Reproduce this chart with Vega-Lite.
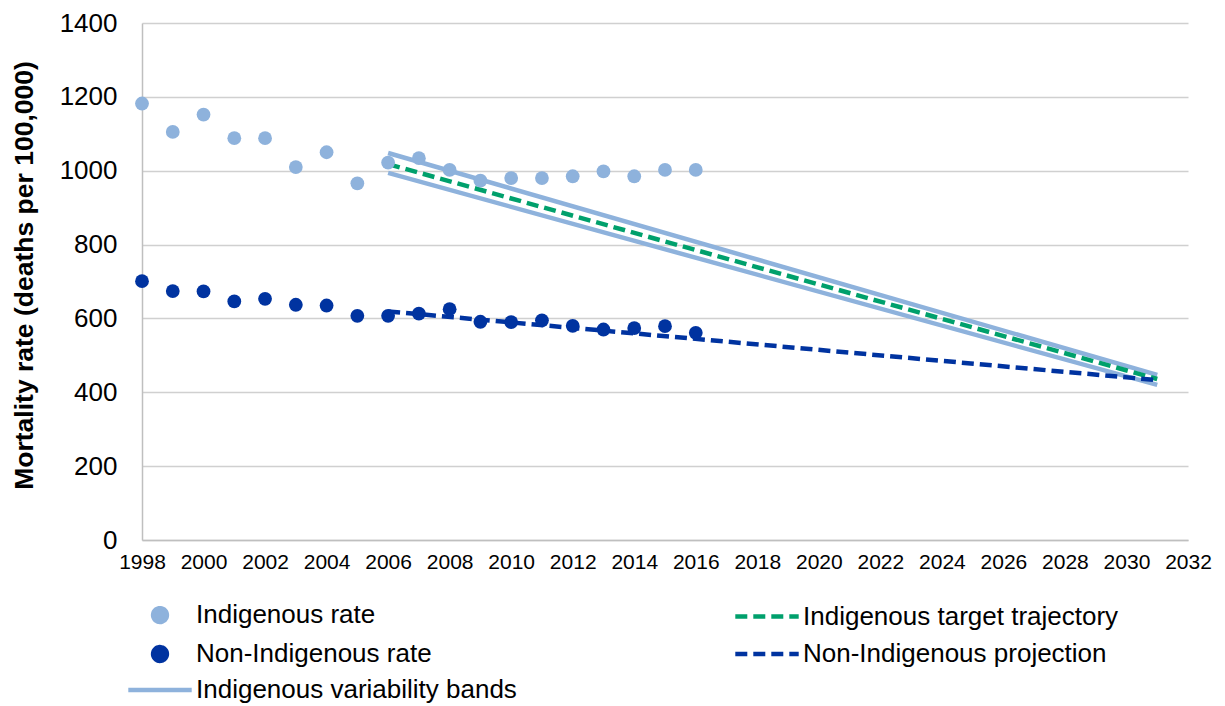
{
  "$schema": "https://vega.github.io/schema/vega-lite/v6.json",
  "width": 1046,
  "height": 517,
  "autosize": {"type": "none"},
  "padding": {"left": 142, "top": 23, "right": 37, "bottom": 166},
  "background": "white",
  "config": {
    "view": {"stroke": null},
    "font": "Liberation Sans",
    "axis": {"labelColor": "#000000", "titleColor": "#000000", "labelFont": "Liberation Sans", "titleFont": "Liberation Sans"}
  },
  "datasets": {
    "pts": [
      {"year": 1998, "value": 1182, "series": "Indigenous rate"},
      {"year": 1999, "value": 1105, "series": "Indigenous rate"},
      {"year": 2000, "value": 1152, "series": "Indigenous rate"},
      {"year": 2001, "value": 1088, "series": "Indigenous rate"},
      {"year": 2002, "value": 1088, "series": "Indigenous rate"},
      {"year": 2003, "value": 1010, "series": "Indigenous rate"},
      {"year": 2004, "value": 1050, "series": "Indigenous rate"},
      {"year": 2005, "value": 966, "series": "Indigenous rate"},
      {"year": 2006, "value": 1022, "series": "Indigenous rate"},
      {"year": 2007, "value": 1034, "series": "Indigenous rate"},
      {"year": 2008, "value": 1002, "series": "Indigenous rate"},
      {"year": 2009, "value": 973, "series": "Indigenous rate"},
      {"year": 2010, "value": 980, "series": "Indigenous rate"},
      {"year": 2011, "value": 980, "series": "Indigenous rate"},
      {"year": 2012, "value": 985, "series": "Indigenous rate"},
      {"year": 2013, "value": 998, "series": "Indigenous rate"},
      {"year": 2014, "value": 985, "series": "Indigenous rate"},
      {"year": 2015, "value": 1002, "series": "Indigenous rate"},
      {"year": 2016, "value": 1002, "series": "Indigenous rate"},
      {"year": 1998, "value": 701, "series": "Non-Indigenous rate"},
      {"year": 1999, "value": 674, "series": "Non-Indigenous rate"},
      {"year": 2000, "value": 673, "series": "Non-Indigenous rate"},
      {"year": 2001, "value": 646, "series": "Non-Indigenous rate"},
      {"year": 2002, "value": 653, "series": "Non-Indigenous rate"},
      {"year": 2003, "value": 637, "series": "Non-Indigenous rate"},
      {"year": 2004, "value": 635, "series": "Non-Indigenous rate"},
      {"year": 2005, "value": 607, "series": "Non-Indigenous rate"},
      {"year": 2006, "value": 607, "series": "Non-Indigenous rate"},
      {"year": 2007, "value": 613, "series": "Non-Indigenous rate"},
      {"year": 2008, "value": 625, "series": "Non-Indigenous rate"},
      {"year": 2009, "value": 591, "series": "Non-Indigenous rate"},
      {"year": 2010, "value": 590, "series": "Non-Indigenous rate"},
      {"year": 2011, "value": 595, "series": "Non-Indigenous rate"},
      {"year": 2012, "value": 580, "series": "Non-Indigenous rate"},
      {"year": 2013, "value": 570, "series": "Non-Indigenous rate"},
      {"year": 2014, "value": 574, "series": "Non-Indigenous rate"},
      {"year": 2015, "value": 579, "series": "Non-Indigenous rate"},
      {"year": 2016, "value": 561, "series": "Non-Indigenous rate"}
    ],
    "lines": [
      {"year": 2006, "value": 1048, "series": "Indigenous variability bands", "band": "upper"},
      {"year": 2031, "value": 447, "series": "Indigenous variability bands", "band": "upper"},
      {"year": 2006, "value": 994, "series": "Indigenous variability bands", "band": "lower"},
      {"year": 2031, "value": 420, "series": "Indigenous variability bands", "band": "lower"},
      {"year": 2006, "value": 1018, "series": "Indigenous target trajectory", "band": "target"},
      {"year": 2031, "value": 436, "series": "Indigenous target trajectory", "band": "target"},
      {"year": 2006, "value": 619, "series": "Non-Indigenous projection", "band": "proj"},
      {"year": 2031, "value": 433, "series": "Non-Indigenous projection", "band": "proj"}
    ]
  },
  "encoding": {
    "x": {
      "field": "year", "type": "quantitative",
      "scale": {"domain": [1998, 2032], "nice": false, "zero": false},
      "axis": {
        "title": null, "values": [1998,2000,2002,2004,2006,2008,2010,2012,2014,2016,2018,2020,2022,2024,2026,2028,2030,2032],
        "format": "d", "grid": false, "ticks": false, "tickSize": 0,
        "labelFontSize": 21, "labelPadding": 11, "labelFlush": false, "labelOverlap": false,
        "domainColor": "#bfbfbf", "domainWidth": 1.5
      }
    },
    "y": {
      "field": "value", "type": "quantitative",
      "scale": {"domain": [0, 1400], "nice": false},
      "axis": {
        "title": "Mortality rate (deaths per 100,000)",
        "values": [0,200,400,600,800,1000,1200,1400],
        "format": "d", "grid": true, "gridColor": "#d0d0d0", "gridWidth": 1.3,
        "ticks": false, "tickSize": 0, "labelFontSize": 26, "labelPadding": 25,
        "domainColor": "#bfbfbf", "domainWidth": 1.5,
        "titleFontSize": 26.5, "titleFontWeight": "bold", "titleX": -118, "titleY": 252,
        "titleAngle": -90, "titleAlign": "center", "titleBaseline": "middle"
      }
    },
    "color": {
      "field": "series", "type": "nominal",
      "scale": {
        "domain": ["Indigenous rate", "Non-Indigenous rate", "Indigenous variability bands", "Indigenous target trajectory", "Non-Indigenous projection"],
        "range": ["#8eb2dc", "#0033a0", "#8eb2dc", "#00a06c", "#0033a0"]
      },
      "legend": {
        "title": null, "orient": "none", "legendX": 5, "legendY": 579,
        "columns": 2, "columnPadding": 209, "rowPadding": 7,
        "labelFontSize": 26, "labelFont": "Liberation Sans", "labelColor": "#000000",
        "labelOffset": 23, "labelLimit": 600, "symbolSize": 190, "symbolType": "circle",
        "encode": {
          "symbols": {
            "update": {
              "shape": [{"test": "indexof(datum.value, 'rate') >= 0", "value": "circle"}, {"value": "M-4.6,0H4.6"}],
              "size": {"value": 190},
              "fill": [{"test": "indexof(datum.value, 'rate') >= 0", "scale": "color", "field": "value"}, {"value": "transparent"}],
              "stroke": [{"test": "indexof(datum.value, 'rate') >= 0", "value": "transparent"}, {"scale": "color", "field": "value"}],
              "strokeWidth": {"value": 4.5},
              "strokeCap": {"value": "butt"},
              "strokeDash": [{"test": "indexof(datum.value, 'bands') >= 0 || indexof(datum.value, 'rate') >= 0", "value": [1, 0]}, {"value": [12, 6]}],
              "opacity": {"value": 1}
            }
          }
        }
      }
    }
  },
  "layer": [
    {
      "data": {"name": "lines"},
      "transform": [{"filter": "datum.band === 'upper' || datum.band === 'lower'"}],
      "mark": {"type": "line", "strokeWidth": 4.5, "strokeCap": "butt"},
      "encoding": {"detail": {"field": "band"}}
    },
    {
      "data": {"name": "lines"},
      "transform": [{"filter": "datum.band === 'target'"}],
      "mark": {"type": "line", "strokeWidth": 4.5, "strokeDash": [12, 6], "strokeCap": "butt"},
      "encoding": {}
    },
    {
      "data": {"name": "lines"},
      "transform": [{"filter": "datum.band === 'proj'"}],
      "mark": {"type": "line", "strokeWidth": 4.5, "strokeDash": [12, 6], "strokeCap": "butt"},
      "encoding": {}
    },
    {
      "data": {"name": "pts"},
      "mark": {"type": "point", "filled": true, "size": 190, "opacity": 1, "shape": "circle"},
      "encoding": {}
    }
  ]
}
